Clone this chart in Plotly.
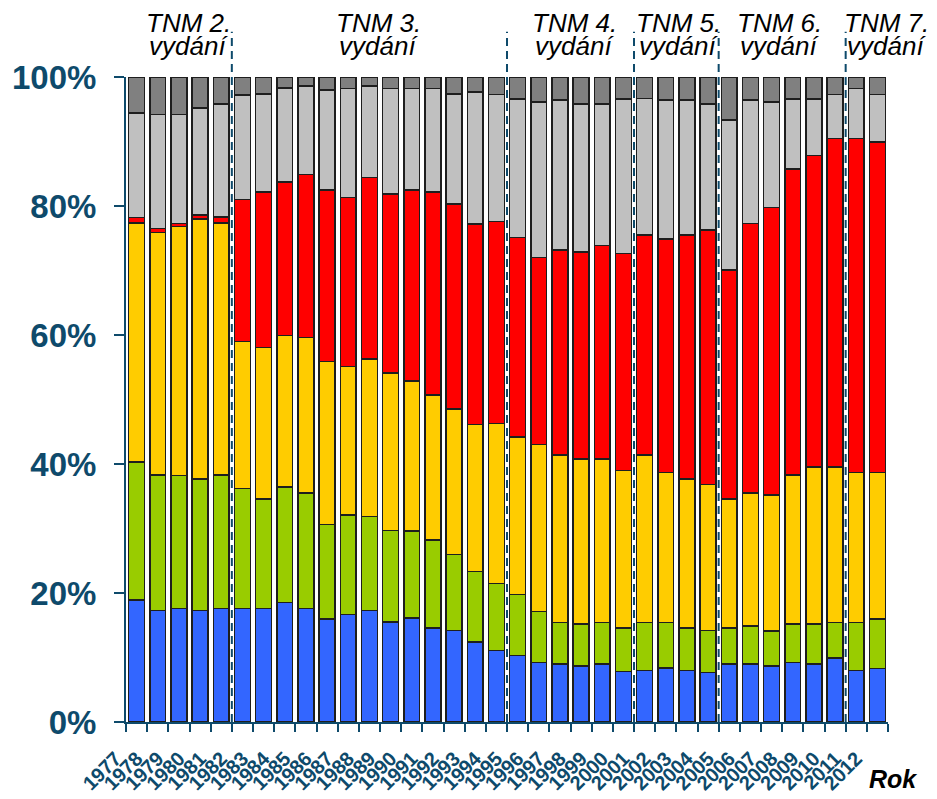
import plotly.graph_objects as go

ROKY = [str(r) for r in range(1977, 2013)]

# podíly (%) jednotlivých kategorií
MODRA = [18.9, 17.3, 17.6, 17.3, 17.6, 17.6, 17.6, 18.5, 17.6, 16.0, 16.7, 17.3, 15.5, 16.1, 14.6, 14.2, 12.4, 11.1,
         10.3, 9.2, 9.0, 8.7, 9.0, 7.8, 8.0, 8.4, 8.0, 7.7, 9.0, 9.0, 8.7, 9.2, 9.0, 9.9, 8.0, 8.3]
ZELENA = [21.4, 21.0, 20.6, 20.4, 20.7, 18.6, 17.0, 17.9, 17.9, 14.6, 15.4, 14.6, 14.2, 13.5, 13.6, 11.8, 10.9, 10.4,
          9.5, 7.9, 6.4, 6.5, 6.4, 6.8, 7.4, 7.0, 6.6, 6.5, 5.6, 5.9, 5.4, 6.0, 6.2, 5.5, 7.4, 7.7]
ZLUTA = [37.1, 37.6, 38.6, 40.3, 39.1, 22.8, 23.5, 23.5, 24.1, 25.3, 23.0, 24.4, 24.4, 23.3, 22.5, 22.5, 22.8, 24.8,
         24.4, 25.9, 26.0, 25.6, 25.4, 24.4, 26.0, 23.3, 23.1, 22.6, 20.0, 20.6, 21.1, 23.1, 24.3, 24.1, 23.3, 22.7]
CERVENA = [0.8, 0.6, 0.5, 0.6, 0.9, 22.0, 24.1, 23.8, 25.3, 26.6, 26.2, 28.1, 27.8, 29.6, 31.5, 31.8, 31.1, 31.3,
           30.9, 29.0, 31.8, 32.1, 33.1, 33.6, 34.1, 36.2, 37.8, 39.5, 35.5, 41.8, 44.6, 47.4, 48.3, 51.0, 51.8, 51.2]
SEDA_SVETLA = [16.2, 17.7, 16.9, 16.6, 17.5, 16.2, 15.2, 14.6, 13.7, 15.5, 16.9, 14.2, 16.3, 15.7, 16.0, 17.1, 20.5, 19.7,
               21.5, 24.1, 23.2, 22.9, 21.9, 24.0, 21.2, 21.5, 20.9, 19.5, 23.2, 19.1, 16.3, 10.9, 8.8, 6.8, 7.7, 7.4]
SEDA_TMAVA = [5.6, 5.8, 5.8, 4.8, 4.2, 2.8, 2.6, 1.7, 1.4, 2.0, 1.8, 1.4, 1.8, 1.8, 1.8, 2.6, 2.3, 2.7,
              3.4, 3.9, 3.6, 4.2, 4.2, 3.4, 3.3, 3.6, 3.6, 4.2, 6.7, 3.6, 3.9, 3.4, 3.4, 2.7, 1.8, 2.7]

Y_TICKY = [0, 20, 40, 60, 80, 100]
Y_POPISKY = ["0%", "20%", "40%", "60%", "80%", "100%"]

VYDANI = ["TNM 2.", "TNM 3.", "TNM 4.", "TNM 5.", "TNM 6.", "TNM 7."]
VYDANI_ZACATEK = ["1977", "1982", "1995", "2001", "2005", "2011"]  # první sloupec každého vydání
VYDANI_POPISEK_X = [0.082, 0.331, 0.589, 0.725, 0.858, 0.998]  # střed popisku, v šířce grafu

MODRA_TMAVA = "#0E4A6B"
FONT = "Arial, Liberation Sans, sans-serif"

serie = [
    (MODRA, "#3366FF"),
    (ZELENA, "#99CC00"),
    (ZLUTA, "#FFCC00"),
    (CERVENA, "#FF0000"),
    (SEDA_SVETLA, "#C0C0C0"),
    (SEDA_TMAVA, "#808080"),
]

fig = go.Figure()
for hodnoty, barva in serie:
    fig.add_trace(go.Bar(x=ROKY, y=hodnoty, marker=dict(color=barva, line=dict(color="#1E1E1E", width=1.5)),
                         showlegend=False))

# přerušované čáry mezi vydáními
for rok in VYDANI_ZACATEK[1:]:
    i = ROKY.index(rok) - 0.5
    fig.add_shape(type="line", xref="x", yref="paper", x0=i, x1=i, y0=0, y1=1.07,
                  line=dict(color=MODRA_TMAVA, width=2, dash="8px,5px"))

for nazev, xp in zip(VYDANI, VYDANI_POPISEK_X):
    fig.add_annotation(x=xp, y=1.084, xref="paper", yref="paper", text=f"<i>{nazev}</i>", showarrow=False,
                       font=dict(size=26, color="black", family=FONT), xanchor="center", yanchor="middle")
    fig.add_annotation(x=xp, y=1.048, xref="paper", yref="paper", text="<i>vydání</i>", showarrow=False,
                       font=dict(size=26, color="black", family=FONT), xanchor="center", yanchor="middle")

fig.add_annotation(x=1.007, y=-0.088, xref="paper", yref="paper", text="<b><i>Rok</i></b>", showarrow=False,
                   font=dict(size=25, color="black", family=FONT), xanchor="center", yanchor="middle")

# stránka má okraj 8 px, proto je obrázek o 8 px menší
fig.update_layout(
    width=929, height=791,
    barmode="stack", bargap=0.25,
    paper_bgcolor="white", plot_bgcolor="white",
    margin=dict(l=118, r=49, t=69, b=77, autoexpand=False),
    font=dict(family=FONT),
    xaxis=dict(type="category", range=[-0.5, 35.5], tickangle=-45, tickson="boundaries", dtick=1,
               ticks="outside", ticklen=8, tickwidth=2, tickcolor=MODRA_TMAVA,
               showline=True, linecolor=MODRA_TMAVA, linewidth=2, showgrid=False,
               ticklabelstandoff=15, ticklabelshift=-21,
               tickfont=dict(size=20, color=MODRA_TMAVA, family=FONT, weight="bold")),
    yaxis=dict(range=[0, 100], tickmode="array", tickvals=Y_TICKY, ticktext=Y_POPISKY,
               ticks="outside", ticklen=10, tickwidth=2, tickcolor=MODRA_TMAVA,
               showline=True, linecolor=MODRA_TMAVA, linewidth=2, showgrid=False, zeroline=False,
               tickfont=dict(size=33, color=MODRA_TMAVA, family=FONT, weight="bold"), ticklabelstandoff=11),
)

fig.write_html("out.html")
